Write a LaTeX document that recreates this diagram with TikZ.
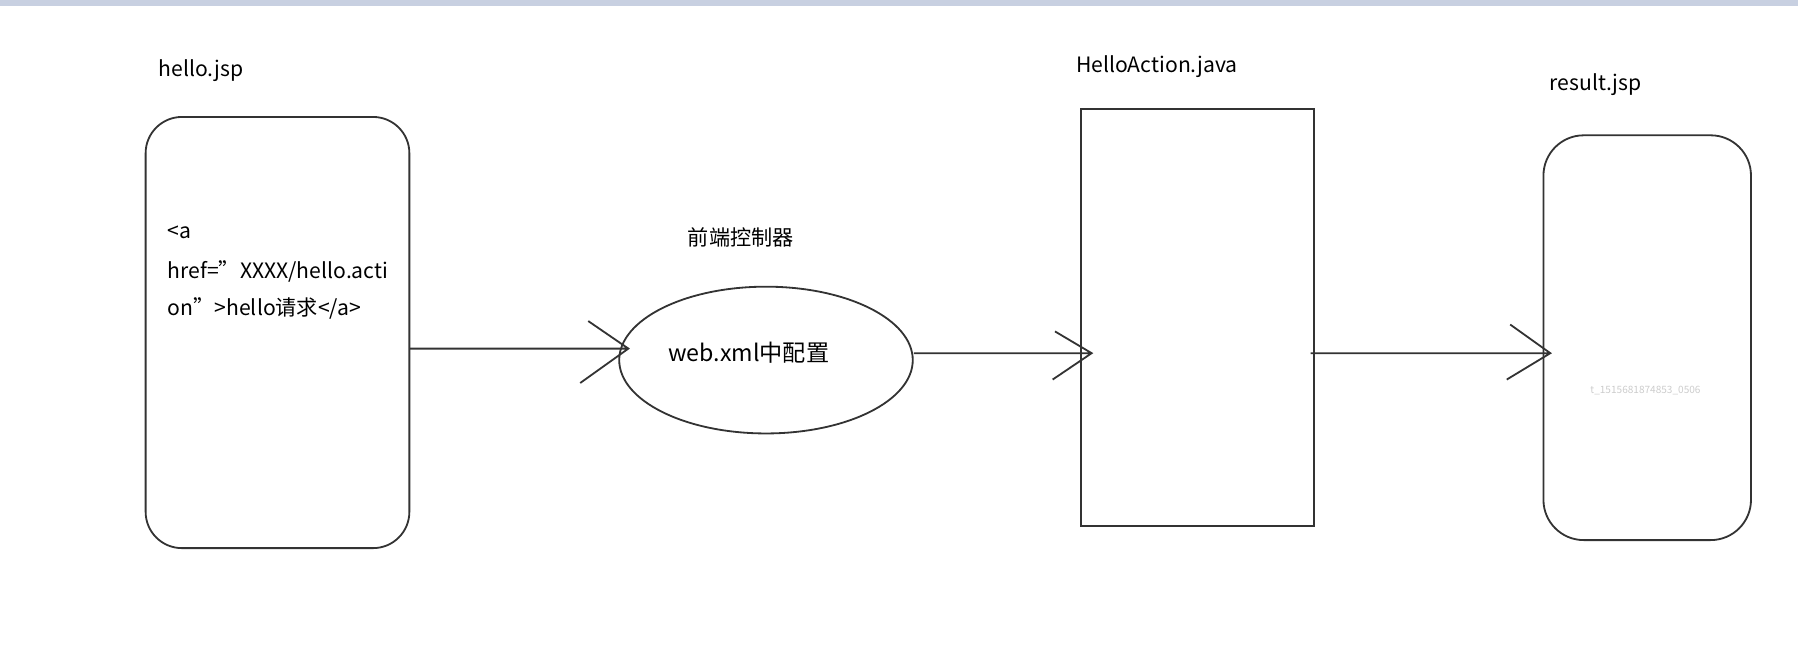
\documentclass[tikz,border=0pt]{standalone}
\usepackage{fontspec}
\setmainfont{Noto Sans CJK SC}
\usetikzlibrary{shapes.geometric}
\begin{document}
\begin{tikzpicture}[x=0.02cm,y=-0.02cm,
  ln/.style={draw=black!80,line width=0.9pt},
  lbl/.style={font=\fontsize{10.5}{12}\selectfont,inner sep=0pt},
  every node/.style={inner sep=0pt}]
\useasboundingbox (0,0) rectangle (1568,562.5);
\fill[fill={rgb,255:red,200;green,208;blue,225}] (0,0) rectangle (1568,5);
% boxes
\draw[ln,rounded corners=18] (127,102) rectangle (357,478);
\node[ln,ellipse,minimum width=256*0.02cm,minimum height=128*0.02cm] (ctrl) at (668,314) {};
\draw[ln] (943,95) rectangle (1146,459);
\draw[ln,rounded corners=20] (1346,118) rectangle (1527,471);
% labels
\node[lbl,anchor=west] (l1) at (138,62) {hello.jsp};
\node[lbl,anchor=west] (l2) at (938,58) {HelloAction.java};
\node[lbl,anchor=west] (l3) at (1351,74) {result.jsp};
\node[lbl] (l4) at (646,207) {前端控制器};
\node[lbl,font=\fontsize{11.5}{13}\selectfont] (l5) at (653,308) {web.xml中配置};
\node[lbl,anchor=west] (t1) at (146,203) {<a};
\node[lbl,anchor=west] (t2) at (146,237) {href="XXXX/hello.acti};
\node[lbl,anchor=west] (t3) at (146,269) {on">hello请求</a>};
\node[font=\fontsize{5}{6}\selectfont,text=black!20] (wm) at (1435,341) {t\_1515681874853\_0506};
% arrows
\coordinate (a1s) at (357,304); \coordinate (a1e) at (548,304);
\coordinate (a2s) at (797,308); \coordinate (a2e) at (952,308);
\coordinate (a3s) at (1143,308); \coordinate (a3e) at (1352,308);
\draw[ln] (a1s) -- (a1e) (513,280) -- (a1e) -- (506,334);
\draw[ln] (a2s) -- (a2e) (920,289) -- (a2e) -- (918,331);
\draw[ln] (a3s) -- (a3e) (1317,283) -- (a3e) -- (1314,331);
\end{tikzpicture}
\end{document}
